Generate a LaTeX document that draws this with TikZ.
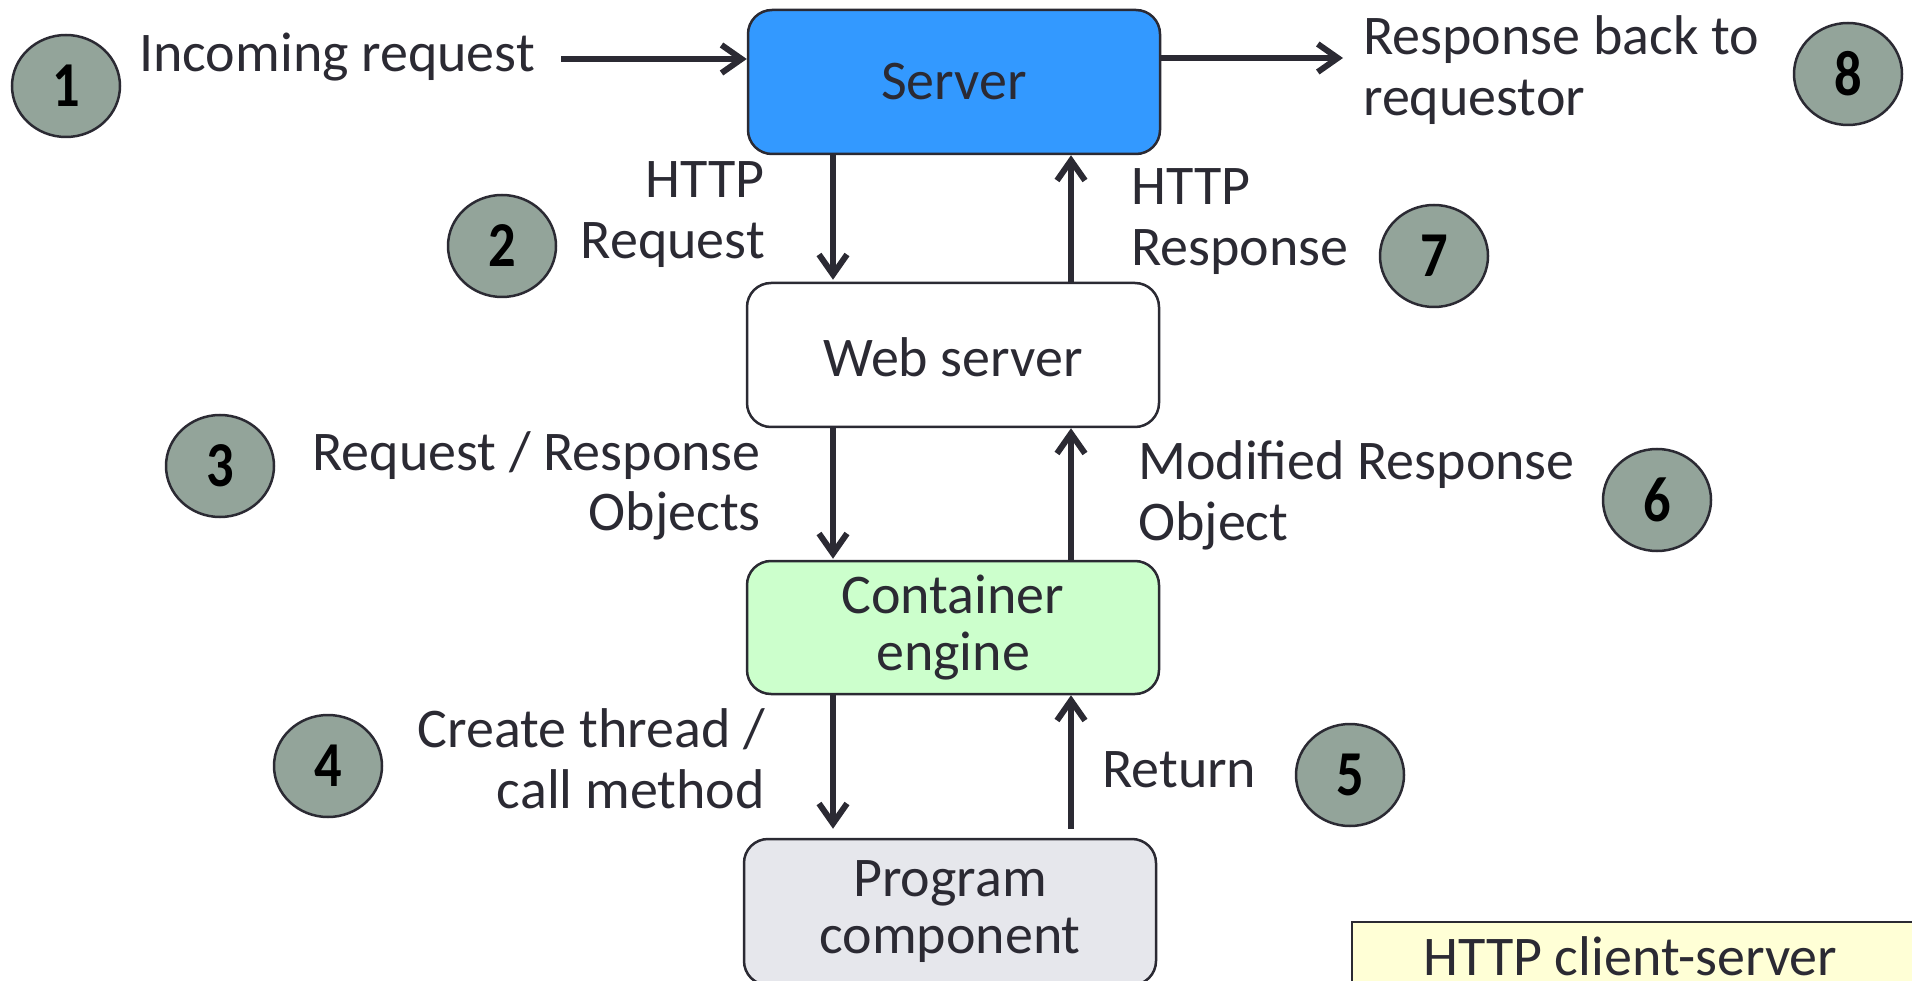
\documentclass[tikz,border=0pt]{standalone}
\usepackage{fontspec}
\setmainfont{Carlito}
\usetikzlibrary{arrows.meta,shapes.geometric}
\definecolor{ink}{RGB}{43,42,51}
\definecolor{numfill}{RGB}{147,164,154}
\definecolor{srvblue}{RGB}{51,153,255}
\definecolor{contgreen}{RGB}{204,255,204}
\definecolor{proggrey}{RGB}{230,231,236}
\definecolor{noteyellow}{RGB}{255,255,214}
\newcommand{\numtxt}[1]{\scalebox{0.85}[1]{#1}}
\begin{document}
\begin{tikzpicture}[x=1pt,y=-1pt,
  txt/.style={inner sep=0pt, text=ink, font=\fontsize{56}{61}\selectfont},
  box/.style={draw=ink, line width=2.5pt, rounded corners=24pt, minimum width=412pt,
    inner sep=0pt, align=center, text=ink, font=\fontsize{56}{57}\selectfont},
  num/.style={ellipse, draw=ink, line width=2.5pt, fill=numfill, minimum width=108pt,
    minimum height=102pt, inner sep=0pt, text=black, font=\bfseries\fontsize{64}{64}\selectfont},
  arr/.style={draw=ink, line width=6pt, -{Straight Barb[length=20pt,width=28pt]}}
]
\useasboundingbox (0,0) rectangle (1912,981);

% boxes
\node[box, fill=srvblue, minimum height=144pt] (srv) at (954,82) {Server};
\node[box, fill=white, minimum height=144pt, text height=44pt] (web) at (953,355) {Web server};
\node[box, fill=contgreen, minimum height=133pt] (cont) at (953,627.5) {Container\\engine};
\node[box, fill=proggrey, minimum height=146pt] (prog) at (950,912) {Program\\component};

% horizontal arrows
\coordinate (inc) at (561,59);
\coordinate (out) at (1343,58);
\draw[arr] (inc) -- (inc -| srv.west);
\draw[arr] (out -| srv.east) -- (out);

% vertical arrows
\draw[arr, shorten >=2pt] ([xshift=-121pt]srv.south) -- ([xshift=-121pt]srv.south |- web.north);
\draw[arr] ([xshift=117pt]srv.south |- web.north) -- ([xshift=117pt]srv.south);
\draw[arr, shorten >=1pt] ([xshift=-121pt]srv.south |- web.south) -- ([xshift=-121pt]srv.south |- cont.north);
\draw[arr] ([xshift=117pt]srv.south |- cont.north) -- ([xshift=117pt]srv.south |- web.south);
\draw[arr, shorten >=9pt] ([xshift=-121pt]srv.south |- cont.south) -- ([xshift=-121pt]srv.south |- prog.north);
\draw[arr, shorten <=9pt] ([xshift=117pt]srv.south |- prog.north) -- ([xshift=117pt]srv.south |- cont.south);

% labels
\node[txt, anchor=base west] (lin) at (139,72) {Incoming request};
\node[txt, anchor=base west] (lout) at (1363,55) {\begin{tabular}[t]{@{}l@{}}Response back to\\requestor\end{tabular}};
\node[txt, anchor=base east] (l2) at (765,198) {\begin{tabular}[t]{@{}r@{}}HTTP\\Request\end{tabular}};
\node[txt, anchor=base west] (l7) at (1131,205) {\begin{tabular}[t]{@{}l@{}}HTTP\\Response\end{tabular}};
\node[txt, anchor=base east] (l3) at (761,470) {\begin{tabular}[t]{@{}r@{}}Request / Response\\Objects\end{tabular}};
\node[txt, anchor=base west] (l6) at (1138,479) {\begin{tabular}[t]{@{}l@{}}Modified Response\\Object\end{tabular}};
\node[txt, anchor=base east] (l4) at (765,747) {\begin{tabular}[t]{@{}r@{}}Create thread /\\call method\end{tabular}};
\node[txt, anchor=base west] (l5) at (1102,787) {Return};

% numbered circles
\node[num] (n1) at (66,86) {\numtxt{1}};
\node[num] (n2) at (502,246) {\numtxt{2}};
\node[num] (n3) at (220,466) {\numtxt{3}};
\node[num] (n4) at (328,766) {\numtxt{4}};
\node[num] (n5) at (1350,775) {\numtxt{5}};
\node[num] (n6) at (1657,500) {\numtxt{6}};
\node[num] (n7) at (1434,256) {\numtxt{7}};
\node[num] (n8) at (1848,74) {\numtxt{8}};

% caption box (runs off the page, as in the reference)
\draw[draw=ink, fill=noteyellow, line width=2.5pt] (1352,922) rectangle (1940,1010);
\node[txt, anchor=base west] (note) at (1423,975) {HTTP client-server};
\end{tikzpicture}
\end{document}
